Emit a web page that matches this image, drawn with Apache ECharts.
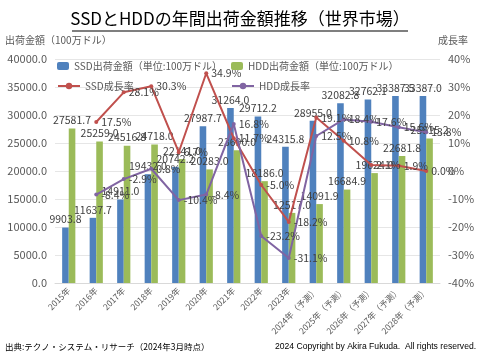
<!DOCTYPE html>
<html><head><meta charset="utf-8">
<script src="https://cdn.jsdelivr.net/npm/echarts@6/dist/echarts.min.js"></script>
<style>html,body{margin:0;padding:0;background:#fff}#c{width:480px;height:360px}</style>
</head><body><div id="c"></div>
<script>
const categories = ['2015年','2016年','2017年','2018年','2019年','2020年','2021年','2022年','2023年','2024年（予測）','2025年（予測）','2026年（予測）','2027年（予測）','2028年（予測）'];
const ssdValues = [9903.8, 11637.7, 14911.0, 19432.0, 20742.2, 27987.7, 31264.0, 29712.2, 24315.8, 28955.0, 32082.8, 32762.1, 33387.5, 33387.0];
const hddValues = [27581.7, 25259.0, 24516.8, 24718.0, 22141.0, 20283.0, 23690.0, 18186.0, 12517.0, 14091.9, 16684.9, 19624.0, 22681.8, 25815.2];
const ssdGrowth = [null, 17.5, 28.1, 30.3, 6.7, 34.9, 11.7, -5.0, -18.2, 19.1, 10.8, 2.1, 1.9, 0.0];
const hddGrowth = [null, -8.4, -2.9, 0.8, -10.4, -8.4, 16.8, -23.2, -31.1, 12.5, 18.4, 17.6, 15.6, 13.8];
const leftTicks = [0, 40000, 5000];
const rightTicks = [-40, 40, 10];

const FONT = '"Noto Sans CJK JP", "Noto Sans", sans-serif';
const names = ['SSD出荷金額（単位:100万ドル）','HDD出荷金額（単位:100万ドル）','SSD成長率','HDD成長率'];
const chart = echarts.init(document.getElementById('c'));
const lblStyle = {color:'#404040', fontSize:10.5, fontFamily:FONT};
const legendBase = {textStyle:{color:'#595959', fontSize:10, fontFamily:FONT}, itemGap:4};
chart.setOption({
  animation:false,
  textStyle:{fontFamily:FONT},
  title:{text:'SSDとHDDの年間出荷金額推移（世界市場）', left:'center', top:5,
    textStyle:{fontSize:17, fontWeight:'normal', color:'#000', fontFamily:FONT}},
  graphic:[
    {type:'line', shape:{x1:72,y1:31,x2:408,y2:31}, style:{stroke:'#000', lineWidth:1.2}},
    {type:'text', left:5, top:35, style:{text:'出荷金額（100万ドル）', fill:'#595959', fontSize:10, fontFamily:FONT}},
    {type:'text', right:12, top:35, style:{text:'成長率', fill:'#595959', fontSize:10, fontFamily:FONT}},
    {type:'text', left:5, top:343, style:{text:'出典:テクノ・システム・リサーチ（2024年3月時点）', fill:'#000', fontSize:8.5, fontFamily:FONT}},
    {type:'text', left:275, top:342, style:{text:'2024 Copyright by Akira Fukuda.  All rights reserved.', fill:'#000', fontSize:8.6, fontFamily:'"Liberation Sans", sans-serif'}}
  ],
  legend:[
    Object.assign({data:[names[0]], left:52, top:56, itemWidth:12, itemHeight:8}, legendBase),
    Object.assign({data:[names[1]], left:226, top:56, itemWidth:12, itemHeight:8}, legendBase),
    Object.assign({data:[names[2]], left:52, top:76, itemWidth:22, itemHeight:8}, legendBase),
    Object.assign({data:[names[3]], left:226, top:76, itemWidth:22, itemHeight:8}, legendBase)
  ],
  grid:{left:55, right:40, top:59, bottom:77},
  xAxis:{type:'category', data:categories,
    axisLine:{lineStyle:{color:'#d9d9d9'}}, axisTick:{show:false},
    axisLabel:{rotate:45, color:'#595959', fontSize:8.5, interval:0, fontFamily:FONT, margin:6}},
  yAxis:[
    {type:'value', min:leftTicks[0], max:leftTicks[1], interval:leftTicks[2],
     axisLabel:{color:'#595959', fontSize:11, formatter:v=>v.toFixed(1)},
     splitLine:{lineStyle:{color:'#e6e6e6'}}, axisLine:{show:false}, axisTick:{show:false}},
    {type:'value', min:rightTicks[0], max:rightTicks[1], interval:rightTicks[2],
     axisLabel:{color:'#595959', fontSize:11, formatter:v=>v+'%'},
     splitLine:{show:false}, axisLine:{show:false}, axisTick:{show:false}}
  ],
  series:[
    {name:names[0], type:'bar', data:ssdValues, barGap:'0%', barCategoryGap:'52%',
     itemStyle:{color:'#4F81BD'},
     label:{show:true, position:'top', distance:3, formatter:p=>p.value.toFixed(1), ...lblStyle}},
    {name:names[1], type:'bar', data:hddValues, barGap:'0%', barCategoryGap:'52%',
     itemStyle:{color:'#9BBB59'},
     label:{show:true, position:'top', distance:3, formatter:p=>p.value.toFixed(1), ...lblStyle}},
    {name:names[2], type:'line', yAxisIndex:1, data:ssdGrowth, symbol:'circle', symbolSize:4,
     lineStyle:{color:'#C0504D', width:2}, itemStyle:{color:'#C0504D'},
     label:{show:true, position:'right', distance:3, formatter:p=>p.value.toFixed(1)+'%', ...lblStyle}},
    {name:names[3], type:'line', yAxisIndex:1, data:hddGrowth, symbol:'circle', symbolSize:4,
     lineStyle:{color:'#8064A2', width:2}, itemStyle:{color:'#8064A2'},
     label:{show:true, position:'right', distance:3, formatter:p=>p.value.toFixed(1)+'%', ...lblStyle}}
  ]
});
</script></body></html>
